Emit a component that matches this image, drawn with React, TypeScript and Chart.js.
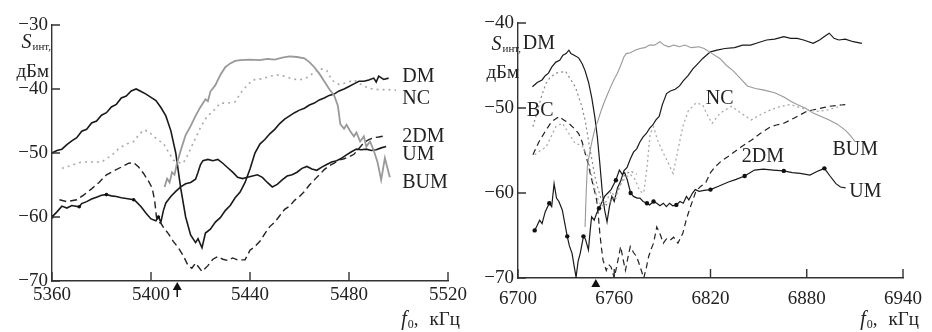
import { useEffect, useRef } from "react";
import { Chart, registerables } from "chart.js";
Chart.register(...registerables);

type P = [number, number];

// ---------- ticks ----------
const leftXTicks = [5360, 5400, 5440, 5480, 5520];
const leftYTicks = [-70, -60, -50, -40, -30];
const rightXTicks = [6700, 6760, 6820, 6880, 6940];
const rightYTicks = [-70, -60, -50, -40];

// ---------- left panel series (f kHz, S dBm) ----------
const leftDM: P[] = [
  [5360, -50.0], [5362, -49.6], [5364, -49.4], [5366, -48.7], [5368, -48.1], [5370, -47.6], [5372, -46.6],
  [5374, -46.3], [5376, -45.3], [5378, -45.0], [5380, -44.1], [5382, -43.7], [5384, -42.8], [5386, -42.4],
  [5388, -41.4], [5390, -41.1], [5392, -40.3], [5394, -40.0], [5396, -40.4], [5398, -40.8], [5400, -41.3],
  [5402, -41.8], [5404, -42.9], [5406, -44.2], [5408, -46.5], [5410, -50.0], [5412, -55.5], [5414, -60.0],
  [5416, -62.8], [5418, -64.0], [5419, -63.4], [5420.6, -64.8], [5422, -62.5], [5424, -61.9], [5426, -60.8],
  [5428, -60.1], [5430, -59.0], [5432, -58.2], [5434, -57.0], [5436, -56.1], [5438, -54.6], [5440, -52.5],
  [5442, -50.0], [5444, -48.6], [5446, -47.9], [5448, -47.0], [5450, -46.3], [5452, -45.4], [5454, -44.7],
  [5456, -44.2], [5458, -43.7], [5460, -43.3], [5462, -43.0], [5464, -42.5], [5466, -42.2], [5468, -41.7],
  [5470, -41.4], [5472, -41.0], [5474, -40.8], [5476, -40.3], [5478, -40.0], [5480, -39.6], [5482, -39.2],
  [5484, -38.8], [5486, -38.8], [5488, -38.6], [5490, -38.3], [5491, -38.9], [5492, -38.0], [5494, -38.5],
  [5496, -38.3],
];
const leftUM: P[] = [
  [5360, -60.0], [5362, -59.2], [5364, -58.3], [5366, -58.6], [5368, -58.2], [5371, -58.4], [5372, -57.9],
  [5374, -57.6], [5376, -57.2], [5378, -56.9], [5380, -56.6], [5382, -56.5], [5384, -56.7], [5386, -56.8],
  [5388, -57.0], [5390, -57.1], [5393, -57.3], [5394, -57.6], [5396, -58.4], [5398, -59.4], [5400, -60.3],
  [5402, -60.6], [5403, -60.0], [5404, -60.8], [5405, -59.0], [5406, -57.8], [5408, -56.8], [5410, -56.0],
  [5412, -55.3], [5414, -54.8], [5416, -54.6], [5418, -54.1], [5419, -53.0], [5420, -51.8], [5421, -51.2],
  [5423, -51.0], [5425, -51.2], [5427, -51.0], [5429, -51.6], [5431, -52.3], [5433, -53.0], [5435, -53.8],
  [5437, -54.0], [5439, -53.8], [5441, -53.6], [5443, -53.4], [5445, -53.8], [5447, -54.6], [5449, -55.3],
  [5451, -54.9], [5453, -54.2], [5455, -53.6], [5457, -53.4], [5459, -53.0], [5461, -52.4], [5463, -52.1],
  [5465, -52.5], [5467, -52.7], [5469, -52.2], [5471, -51.8], [5473, -51.4], [5475, -51.2], [5477, -50.8],
  [5479, -50.3], [5481, -49.8], [5483, -49.4], [5485, -49.5], [5487, -49.4], [5489, -49.6], [5491, -49.5],
  [5493, -49.2], [5495, -49.0],
];
const leftUMMarkers = [5360, 5371, 5382, 5393, 5403];
const leftNC: P[] = [
  [5364, -52.4], [5368, -51.9], [5372, -51.4], [5376, -51.4], [5380, -51.4], [5384, -50.4], [5387, -49.3],
  [5390, -48.6], [5393, -48.2], [5395, -47.2], [5397, -46.4], [5399, -46.6], [5401, -47.4], [5403, -48.0],
  [5405, -48.5], [5407, -49.8], [5409, -51.1], [5411, -51.5], [5413, -51.6], [5415, -50.2], [5417, -48.5],
  [5420, -46.0], [5422.6, -44.3], [5425, -43.5], [5428, -42.2], [5431, -42.2], [5434, -42.0], [5437, -40.2],
  [5441, -38.6], [5445, -38.4], [5448, -38.0], [5451, -37.8], [5454, -38.0], [5457, -38.4], [5460, -38.6],
  [5463, -38.2], [5466, -37.4], [5468, -36.8], [5471, -37.1], [5473, -38.6], [5476, -39.3], [5479, -39.0],
  [5482, -38.6], [5485, -39.3], [5488, -39.9], [5492, -40.1], [5496, -40.1], [5499, -40.2],
];
const left2DM: P[] = [
  [5363, -57.3], [5366, -57.6], [5370, -57.3], [5373, -56.5], [5376, -55.6], [5379, -54.6], [5382, -53.4],
  [5385, -52.8], [5388, -52.2], [5391, -51.6], [5393, -51.5], [5395, -52.2], [5397, -53.2], [5399, -54.4],
  [5400.5, -55.5], [5401.5, -57.5], [5402.2, -60.0], [5403, -60.8], [5404, -61.0], [5405, -61.6], [5407, -62.6],
  [5409, -63.8], [5411, -64.8], [5413, -66.0], [5415, -67.6], [5416.5, -68.0], [5418, -67.2], [5420.6, -68.5],
  [5423, -67.6], [5425, -66.6], [5427, -66.2], [5429, -66.6], [5431, -66.8], [5433, -66.4], [5435, -66.7],
  [5438, -66.7], [5440, -65.2], [5442, -64.6], [5444, -63.8], [5446, -62.6], [5448, -61.5], [5450, -60.8],
  [5452, -59.8], [5454, -58.8], [5456, -58.3], [5458, -57.4], [5460, -56.8], [5462, -56.0], [5464, -55.0],
  [5466, -54.2], [5468, -53.4], [5470, -52.6], [5472, -52.0], [5474, -51.6], [5476, -51.1], [5478, -50.9],
  [5480, -50.6], [5482, -50.2], [5484, -49.3], [5486, -48.4], [5488, -47.9], [5490, -47.6], [5492, -47.5],
  [5495, -47.3],
];
const leftBUM: P[] = [
  [5405.5, -55.3], [5406.5, -54.0], [5407.5, -54.6], [5408.5, -53.0], [5409.5, -53.4], [5410.5, -51.6],
  [5412, -49.6], [5414, -47.2], [5416, -45.8], [5418, -44.2], [5420, -42.8], [5422, -41.6], [5423, -41.9],
  [5424, -40.4], [5426, -39.4], [5428, -37.8], [5430, -36.6], [5432, -36.0], [5434, -35.6], [5436, -35.5],
  [5440, -35.4], [5444, -35.5], [5447, -35.3], [5450, -35.4], [5453, -35.1], [5456, -34.9], [5459, -35.0],
  [5462, -35.2], [5464, -35.8], [5466, -36.6], [5468, -37.6], [5470, -38.8], [5472, -40.0], [5474, -41.0],
  [5475.5, -42.6], [5476.5, -45.5], [5478, -46.2], [5479, -45.6], [5480.5, -46.6], [5482, -47.4], [5483, -46.8],
  [5484.5, -48.2], [5486, -47.4], [5487, -49.0], [5488.5, -48.2], [5490, -49.6], [5491.5, -51.4], [5493, -54.2],
  [5494.5, -50.8], [5496.5, -53.8],
];
const leftArrowFreq = 5410.6;
const leftLabels = [
  { text: "DM", f: 5501.5, v: -38.1 },
  { text: "NC", f: 5501.5, v: -41.5 },
  { text: "2DM", f: 5501.5, v: -47.4 },
  { text: "UM", f: 5501.5, v: -50.3 },
  { text: "BUM", f: 5501.5, v: -54.6 },
];

// ---------- right panel series ----------
const rightDM: P[] = [
  [6709, -47.5], [6712, -47.0], [6715, -46.7], [6717, -46.2], [6719, -45.9], [6721, -45.2], [6723.6, -44.6],
  [6726, -44.4], [6728, -43.8], [6730, -43.6], [6731.7, -43.2], [6733, -43.6], [6735, -43.8], [6737.8, -44.1],
  [6740, -44.8], [6741.8, -45.6], [6744, -47.0], [6746, -48.8], [6748, -51.2], [6749.5, -53.5], [6751, -56.5],
  [6752.5, -59.8], [6754, -62.0], [6755.5, -63.4], [6757, -61.6], [6758.5, -60.4], [6760, -61.0], [6762, -59.4],
  [6764, -58.6], [6766, -57.4], [6768, -57.0], [6770, -56.0], [6772, -55.2], [6774, -54.8], [6776, -54.0],
  [6778, -53.4], [6780, -53.0], [6782, -52.4], [6784, -52.0], [6786, -51.4], [6788, -51.0], [6790, -49.6],
  [6792.6, -48.3], [6795, -48.0], [6798, -47.8], [6800.7, -47.4], [6803, -46.8], [6806, -46.2], [6809, -45.4],
  [6812, -44.8], [6815, -44.2], [6818, -43.7], [6820, -43.4], [6824, -43.2], [6829, -43.0], [6835, -42.9],
  [6840, -42.6], [6845, -42.6], [6850, -42.3], [6855, -42.0], [6860, -41.9], [6865.7, -41.6], [6870, -41.8],
  [6874, -41.8], [6878, -42.0], [6884, -42.4], [6888, -42.0], [6891, -41.6], [6894, -41.2], [6897, -41.8],
  [6900, -42.0], [6904, -41.9], [6909, -42.2], [6914.4, -42.4],
];
const rightBUM: P[] = [
  [6741.8, -64.0], [6742.5, -60.0], [6743.2, -57.0], [6744, -56.0], [6746, -54.0], [6748, -52.4], [6750, -51.4],
  [6752, -50.2], [6754, -49.2], [6756, -48.3], [6758, -47.4], [6760, -46.6], [6762, -45.9], [6764, -45.0],
  [6766, -44.0], [6767.5, -43.6], [6770, -43.5], [6773, -43.2], [6776, -43.0], [6779, -42.9], [6782, -42.6],
  [6785, -42.6], [6788.5, -42.2], [6791, -42.6], [6794, -42.8], [6797, -42.6], [6800.7, -42.8], [6804, -42.6],
  [6808, -42.9], [6812.9, -42.8], [6816, -43.0], [6821, -43.6], [6826, -44.2], [6830, -45.0], [6834, -45.6],
  [6838, -46.4], [6843, -47.4], [6848, -47.7], [6853.5, -47.9], [6860, -48.2], [6865.7, -48.7], [6870, -49.2],
  [6874, -49.6], [6879, -50.0], [6884, -50.6], [6889, -51.0], [6894, -51.4], [6899, -51.9], [6904, -52.6],
  [6907, -53.2], [6910.3, -54.0],
];
const rightNC: P[] = [
  [6710.4, -55.5], [6714, -55.0], [6717.5, -54.6], [6720, -53.6], [6723.6, -52.2], [6727.7, -51.8], [6731.7, -53.0],
  [6735.7, -54.2], [6739.8, -54.4], [6743, -55.5], [6746, -58.0], [6749, -60.4], [6752, -61.6], [6755, -61.0],
  [6758, -59.8], [6761, -60.6], [6764, -59.0], [6767, -58.2], [6770, -57.8], [6773, -58.4], [6776, -59.8],
  [6778.4, -60.0], [6780.4, -57.0], [6782.4, -53.0], [6784.5, -52.2], [6787, -53.8], [6790.6, -55.3], [6794, -56.6],
  [6796.7, -57.7], [6799, -55.6], [6802.7, -52.2], [6806, -50.4], [6810.9, -49.4], [6815, -49.6], [6818, -50.8],
  [6821, -51.8], [6826, -50.6], [6833, -49.8], [6839, -50.6], [6845.4, -51.4], [6851, -50.8], [6857.6, -50.2],
  [6864, -49.8], [6869.8, -49.6], [6875, -49.9], [6880, -50.2], [6887, -50.4], [6894, -50.2], [6899, -49.9],
  [6904.2, -49.5],
];
const rightBC: P[] = [
  [6709.3, -52.2], [6712, -50.4], [6715, -48.4], [6717.5, -47.1], [6720, -46.4], [6723.6, -45.9], [6726, -45.8],
  [6729.7, -45.7], [6732, -46.4], [6735.7, -47.5], [6739.8, -49.8], [6742, -51.6], [6743.9, -53.8], [6746, -56.0],
  [6748, -58.1], [6750, -59.6], [6752, -60.8], [6755, -61.4], [6758, -61.0], [6762, -59.8], [6766, -58.0],
  [6770, -57.4], [6774, -57.8],
];
const right2DM: P[] = [
  [6709.3, -55.5], [6713, -54.0], [6717.5, -52.6], [6721, -51.6], [6725.6, -51.0], [6728.5, -51.4], [6731.7, -51.8],
  [6735, -52.4], [6737.8, -53.0], [6740, -54.0], [6741.8, -55.3], [6743.5, -56.4], [6745, -57.7], [6747, -59.2],
  [6749, -60.8], [6750, -62.5], [6751, -64.7], [6752, -66.4], [6753, -67.9], [6755, -69.1], [6756.5, -68.4],
  [6758, -68.7], [6760, -70.0], [6762, -68.2], [6764, -66.3], [6765.5, -67.8], [6767, -69.1], [6768.5, -67.6],
  [6770, -66.3], [6772, -67.0], [6774, -67.5], [6776, -68.6], [6778.4, -70.0], [6780, -68.8], [6781.4, -67.5],
  [6783, -66.6], [6784.5, -65.9], [6786.5, -64.0], [6788.5, -64.8], [6790.6, -65.9], [6792.5, -65.4],
  [6794.6, -65.6], [6797, -65.2], [6799.7, -65.9], [6802.8, -64.7], [6804.8, -63.2], [6806.8, -62.0],
  [6810.9, -59.8], [6814, -59.2], [6817, -58.8], [6820, -57.6], [6823, -56.9], [6827, -56.2], [6831, -55.7],
  [6839, -54.6], [6845.4, -53.8], [6851, -53.0], [6857.6, -52.2], [6861, -52.0], [6865.7, -51.8], [6872, -51.2],
  [6880, -50.4], [6887, -50.1], [6894, -49.8], [6899, -49.7], [6904, -49.6],
];
const rightUM: P[] = [
  [6710.4, -64.4], [6712, -63.8], [6713.5, -63.2], [6715, -63.6], [6717, -62.2], [6719.5, -61.2], [6721, -61.6],
  [6722.5, -58.9], [6724, -60.6], [6725.5, -61.0], [6727.6, -62.0], [6729, -63.4], [6730.7, -65.1], [6732, -66.2],
  [6733.7, -67.1], [6735, -68.6], [6736.2, -69.9], [6737.5, -68.0], [6738.8, -67.1], [6740.8, -65.1], [6742, -65.4],
  [6743.9, -66.7], [6745, -64.4], [6745.9, -62.8], [6747.5, -63.2], [6749, -62.4], [6750.5, -61.8], [6752, -61.2],
  [6754, -60.4], [6756, -60.0], [6758, -59.6], [6761, -58.5], [6763.2, -57.3], [6765, -57.8], [6766.5, -57.6],
  [6768.2, -58.5], [6770.2, -60.0], [6772, -60.4], [6774.3, -60.6], [6776, -60.6], [6778, -61.0], [6780.4, -61.2],
  [6782, -61.4], [6784.5, -61.0], [6786.5, -61.2], [6788.5, -61.5], [6790.6, -61.2], [6792.5, -61.6], [6794.5, -61.2],
  [6796.5, -61.5], [6798.7, -61.4], [6801, -61.0], [6803, -61.2], [6805, -60.4], [6806.5, -60.8], [6808.8, -60.0],
  [6810.5, -59.6], [6812.9, -59.8], [6816, -59.7], [6820, -59.6], [6825, -59.2], [6831.2, -58.7], [6836, -58.4],
  [6841.3, -58.0], [6847.4, -57.3], [6853, -57.2], [6859, -57.3], [6865.7, -57.4], [6871, -57.6], [6875.9, -57.7],
  [6882, -57.9], [6886, -57.5], [6891, -57.1], [6894.5, -58.0], [6898.2, -58.9], [6901, -59.3], [6904.2, -59.4],
];
const rightUMMarkers = [6710.4, 6719.5, 6730.7, 6740.8, 6750.5, 6761, 6770.2, 6780.4, 6784.5, 6798.7, 6820, 6841.3, 6865.7, 6891];
const rightArrowFreq = 6748.5;
const rightLabels = [
  { text: "DM", f: 6703, v: -42.4 },
  { text: "BC", f: 6705.5, v: -50.3 },
  { text: "NC", f: 6817, v: -48.9 },
  { text: "2DM", f: 6839.5, v: -55.7 },
  { text: "BUM", f: 6896, v: -54.9 },
  { text: "UM", f: 6906.5, v: -59.8 },
];

// ---------- drawing ----------
const FONT = "'Liberation Serif', 'DejaVu Serif', serif";
const INK = "#222";

const decor = {
  id: "decor",
  afterDraw(chart: any, _args: any, opts: any) {
    const { ctx, chartArea: a, scales } = chart;
    const xs = scales.x;
    const ys = scales.y;
    ctx.save();
    ctx.strokeStyle = "#333";
    ctx.lineWidth = 1.4;
    ctx.beginPath();
    for (const t of ys.ticks) {
      const y = ys.getPixelForValue(t.value);
      ctx.moveTo(a.left, y);
      ctx.lineTo(a.left + 8, y);
    }
    for (const t of xs.ticks) {
      const x = xs.getPixelForValue(t.value);
      ctx.moveTo(x, a.bottom);
      ctx.lineTo(x, a.bottom - 9);
    }
    ctx.stroke();

    // curve labels
    ctx.fillStyle = INK;
    ctx.font = `20px ${FONT}`;
    ctx.textAlign = "left";
    ctx.textBaseline = "middle";
    for (const l of opts.labels) {
      ctx.fillText(l.text, xs.getPixelForValue(l.f), ys.getPixelForValue(l.v));
    }

    // y title: S_инт, / дБм
    ctx.textBaseline = "alphabetic";
    const yr = a.left + opts.yTitleDx;
    ctx.font = `italic 20px ${FONT}`;
    const wS = ctx.measureText("S").width;
    ctx.font = `11px ${FONT}`;
    const wSub = ctx.measureText("инт,").width;
    const sx = yr - wS - wSub;
    ctx.font = `italic 20px ${FONT}`;
    ctx.fillText("S", sx, opts.sBase);
    ctx.font = `11px ${FONT}`;
    ctx.fillText("инт,", sx + wS + 1, opts.sBase + 2);
    ctx.font = `19px ${FONT}`;
    ctx.textAlign = "right";
    ctx.fillText("дБм", yr - 1, opts.dBase);

    // x title: f0,  кГц
    ctx.textAlign = "left";
    ctx.font = `19px ${FONT}`;
    const wK = ctx.measureText("кГц").width;
    const wComma = ctx.measureText(",").width;
    ctx.font = `italic 20px ${FONT}`;
    const wF = ctx.measureText("f").width;
    ctx.font = `12px ${FONT}`;
    const w0 = ctx.measureText("0").width;
    const gap = 12;
    const xr = a.right + opts.xTitleDx;
    const fx = xr - wK - gap - wComma - w0 - wF;
    const base = chart.height - 7;
    ctx.font = `italic 20px ${FONT}`;
    ctx.fillText("f", fx, base);
    ctx.font = `12px ${FONT}`;
    ctx.fillText("0", fx + wF + 1, base + 3);
    ctx.font = `19px ${FONT}`;
    ctx.fillText(",", fx + wF + w0 + 1, base);
    ctx.fillText("кГц", xr - wK, base);

    // arrow marking the carrier
    const ax = xs.getPixelForValue(opts.arrow);
    ctx.fillStyle = "#111";
    ctx.beginPath();
    ctx.moveTo(ax, a.bottom + 1);
    ctx.lineTo(ax - 4.5, a.bottom + 9);
    ctx.lineTo(ax + 4.5, a.bottom + 9);
    ctx.closePath();
    ctx.fill();
    if (opts.stem) {
      ctx.strokeStyle = "#111";
      ctx.lineWidth = 1.5;
      ctx.beginPath();
      ctx.moveTo(ax, a.bottom + 8);
      ctx.lineTo(ax, a.bottom + 16);
      ctx.stroke();
    }
    ctx.restore();
  },
};

function ds(points: P[], color: string, width: number, dash: number[] = [], markers: number[] = [], mr = 2.2) {
  return {
    data: points.map(([x, y]) => ({ x, y })),
    borderColor: color,
    borderWidth: width,
    borderDash: dash,
    backgroundColor: "#111",
    pointRadius: (c: any) => (c.raw && markers.includes(c.raw.x) ? mr : 0),
    pointBorderWidth: 0,
    pointBackgroundColor: "#111",
    pointHoverRadius: 0,
    tension: 0,
    fill: false,
  };
}

function makeConfig(p: any) {
  return {
    type: "line",
    data: { datasets: p.datasets },
    plugins: [decor],
    options: {
      responsive: false,
      animation: false,
      events: [],
      layout: { padding: { top: p.top, right: p.right, left: 0, bottom: 0 } },
      plugins: {
        legend: { display: false },
        tooltip: { enabled: false },
        decor: p.decor,
      },
      scales: {
        x: {
          type: "linear",
          min: p.xTicks[0],
          max: p.xTicks[p.xTicks.length - 1],
          afterBuildTicks: (s: any) => {
            s.ticks = p.xTicks.map((v: number) => ({ value: v }));
          },
          afterFit: (s: any) => {
            s.height = p.xH;
          },
          grid: { display: false, drawTicks: false },
          border: { display: true, color: "#333", width: 1.4 },
          ticks: {
            color: INK,
            padding: p.xPad,
            maxRotation: 0,
            autoSkip: false,
            font: { family: FONT, size: 19 },
            callback: (v: any) => String(v),
          },
        },
        y: {
          type: "linear",
          min: p.yTicks[0],
          max: p.yTicks[p.yTicks.length - 1],
          afterBuildTicks: (s: any) => {
            s.ticks = p.yTicks.map((v: number) => ({ value: v }));
          },
          afterFit: (s: any) => {
            s.width = p.yW;
          },
          grid: { display: false, drawTicks: false },
          border: { display: true, color: "#333", width: 1.4 },
          ticks: {
            color: INK,
            padding: 4,
            autoSkip: false,
            font: { family: FONT, size: 19 },
            callback: (v: any) => (v < 0 ? "\u2212" + Math.abs(v) : String(v)),
          },
        },
      },
    },
  };
}

function Panel(props: { cfg: any; width: number }) {
  const ref = useRef<HTMLCanvasElement | null>(null);
  useEffect(() => {
    if (!ref.current) return;
    const chart = new Chart(ref.current, props.cfg);
    return () => chart.destroy();
  }, []);
  return (
    <canvas ref={ref} width={props.width} height={332} style={{ width: props.width, height: 332, display: "block" }} />
  );
}

export default function App() {
  const leftCfg = makeConfig({
    datasets: [
      ds(leftNC, "#aaa", 1.6, [2, 4]),
      ds(leftBUM, "#999", 1.8),
      ds(left2DM, "#222", 1.4, [7, 4]),
      ds(leftUM, "#1a1a1a", 1.6, [], leftUMMarkers, 1.8),
      ds(leftDM, "#1a1a1a", 1.6),
    ],
    xTicks: leftXTicks,
    yTicks: leftYTicks,
    top: 25,
    right: 22,
    xH: 51,
    yW: 52,
    xPad: 3,
    decor: { labels: leftLabels, arrow: leftArrowFreq, stem: true, yTitleDx: -2, sBase: 48, dBase: 77, xTitleDx: 12 },
  });
  const rightCfg = makeConfig({
    datasets: [
      ds(rightNC, "#aaa", 1.3, [2, 3]),
      ds(rightBC, "#888", 1.2, [2, 3]),
      ds(rightBUM, "#999", 1.1),
      ds(right2DM, "#222", 1.2, [6, 4]),
      ds(rightUM, "#1a1a1a", 1.2, [], rightUMMarkers, 2.2),
      ds(rightDM, "#1a1a1a", 1.2),
    ],
    xTicks: rightXTicks,
    yTicks: rightYTicks,
    top: 23,
    right: 20,
    xH: 54,
    yW: 48,
    xPad: 10,
    decor: { labels: rightLabels, arrow: rightArrowFreq, stem: false, yTitleDx: 2, sBase: 50, dBase: 78, xTitleDx: 16 },
  });
  return (
    <div style={{ position: "absolute", left: 0, top: 0, width: 932, height: 332, display: "flex", background: "#fff" }}>
      <Panel cfg={leftCfg} width={470} />
      <Panel cfg={rightCfg} width={462} />
    </div>
  );
}
